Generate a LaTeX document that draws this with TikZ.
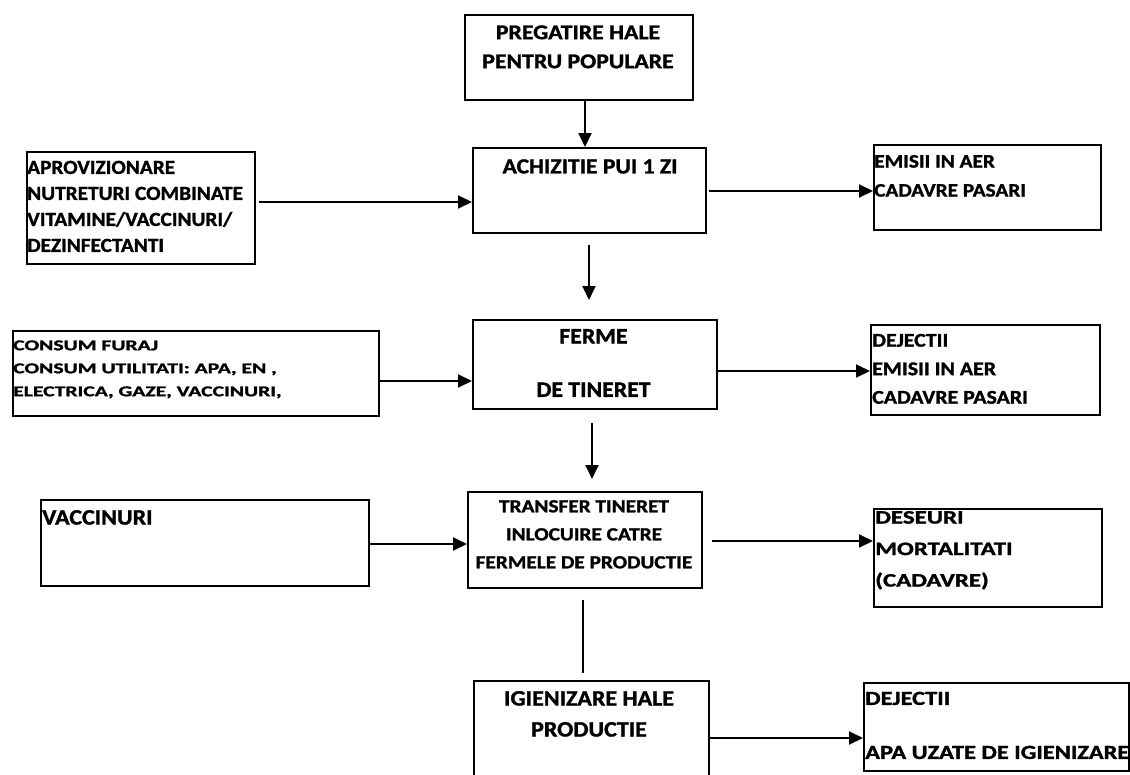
\documentclass[tikz,border=0pt]{standalone}
\usepackage{fontspec}
\setmainfont{Carlito}[BoldFeatures={FakeBold=1.3}]
\usetikzlibrary{arrows.meta,calc}
\tikzset{
  box/.style={draw, line width=1.7pt, inner sep=0pt, anchor=north west},
  txt/.style={inner sep=0pt, transform shape, font=\bfseries},
  arr/.style={line width=1.9pt, -{Triangle[length=14pt,width=13pt]}},
  plain/.style={line width=1.3pt}
}
\newcommand{\fs}[2]{\fontsize{#1}{#2}\selectfont\bfseries}
\begin{document}
\begin{tikzpicture}[x=1pt,y=-1pt]
\useasboundingbox (0,0) rectangle (1130,774);
\clip (0,0) rectangle (1130,774);
% boxes
\node[box, minimum width=228pt, minimum height=85pt] (top) at (464,14) {};
\node[box, minimum width=233pt, minimum height=85pt] (achiz) at (472,147) {};
\node[box, minimum width=228pt, minimum height=112pt] (left1) at (26,151) {};
\node[box, minimum width=227pt, minimum height=85pt] (right1) at (873,144) {};
\node[box, minimum width=366pt, minimum height=85pt] (left2) at (12,330) {};
\node[box, minimum width=244pt, minimum height=89pt] (ferme) at (472,319) {};
\node[box, minimum width=229pt, minimum height=90pt] (right2) at (870,324) {};
\node[box, minimum width=328pt, minimum height=86pt] (left3) at (40,499) {};
\node[box, minimum width=234pt, minimum height=96pt] (transfer) at (467,491) {};
\node[box, minimum width=228pt, minimum height=98pt] (right3) at (873,508) {};
\node[box, minimum width=235pt, minimum height=120pt] (igien) at (473,680) {};
\node[box, minimum width=265pt, minimum height=88pt] (right4) at (863,682) {};
% texts
\node[txt, xscale=1.13, anchor=north, align=center, font=\fs{21}{29}] (ttop) at (578,25.2) {PREGATIRE HALE\\PENTRU POPULARE};
\node[txt, xscale=1.10, anchor=north, align=center, font=\fs{21.5}{29}] (tachiz) at (590,159.1) {ACHIZITIE PUI 1 ZI};
\node[txt, xscale=1.065, anchor=north west, align=left, font=\fs{20}{26}] (tleft1) at (27,160.6) {APROVIZIONARE\\NUTRETURI COMBINATE\\VITAMINE/VACCINURI/\\DEZINFECTANTI};
\node[txt, xscale=1.12, anchor=north west, align=left, font=\fs{19}{29}] (tright1) at (874,154.9) {EMISII IN AER\\CADAVRE PASARI};
\node[txt, xscale=1.44, anchor=north west, align=left, font=\fs{15}{23}] (tleft2) at (13,340.2) {CONSUM FURAJ\\CONSUM UTILITATI: APA, EN ,\\ELECTRICA, GAZE, VACCINURI,};
\node[txt, xscale=1.08, anchor=north, align=center, font=\fs{22}{53.5}] (tferme) at (593.5,328.9) {FERME\\DE TINERET};
\node[txt, xscale=1.12, anchor=north west, align=left, font=\fs{19.5}{28.5}] (tright2) at (872,333.7) {DEJECTII\\EMISII IN AER\\CADAVRE PASARI};
\node[txt, xscale=1.09, anchor=north west, align=left, font=\fs{22}{28}] (tleft3) at (42,509.9) {VACCINURI};
\node[txt, xscale=1.15, anchor=north, align=center, font=\fs{18.5}{28}] (ttransfer) at (584,500) {TRANSFER TINERET\\INLOCUIRE CATRE\\FERMELE DE PRODUCTIE};
\node[txt, xscale=1.31, anchor=north west, align=left, font=\fs{19}{31.5}] (tright3) at (875,510.9) {DESEURI\\MORTALITATI\\(CADAVRE)};
\node[txt, xscale=1.09, anchor=north, align=center, font=\fs{22}{31}] (tigien) at (589,690.9) {IGIENIZARE HALE\\PRODUCTIE};
\node[txt, xscale=1.22, anchor=north west, align=left, font=\fs{20}{54}] (tright4) at (865,691.6) {DEJECTII\\APA UZATE DE IGIENIZARE};
% free-end coordinates
\coordinate (d1s) at (589,245);
\coordinate (d1e) at (589,300);
\coordinate (d2s) at (592,423);
\coordinate (d2e) at (592,479);
\coordinate (l1s) at (259,202);
\coordinate (r1s) at (709,191);
\coordinate (r3s) at (712,541);
\coordinate (v1s) at (583,600);
\coordinate (v1e) at (583,673);
% connectors
\draw[arr] (top.south -| 585,0) -- (achiz.north -| 585,0);
\draw[arr] (d1s) -- (d1e);
\draw[arr] (d2s) -- (d2e);
\draw[arr] (l1s) -- (l1s -| achiz.west);
\draw[arr] (r1s) -- (r1s -| right1.west);
\draw[arr] (left2.east |- 0,381) -- (ferme.west |- 0,381);
\draw[arr] (ferme.east |- 0,371) -- (right2.west |- 0,371);
\draw[arr] (left3.east |- 0,544) -- (transfer.west |- 0,544);
\draw[arr] (r3s) -- (r3s -| right3.west);
\draw[plain] (v1s) -- (v1e);
\draw[arr] (igien.east |- 0,738) -- (right4.west |- 0,738);
\end{tikzpicture}
\end{document}
